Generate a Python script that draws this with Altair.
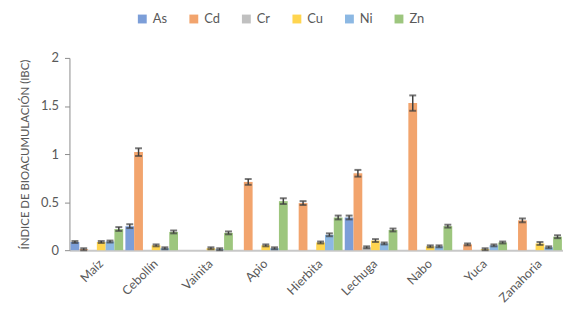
import altair as alt
import pandas as pd

categories = ["Maíz", "Cebollín", "Vainita", "Apio", "Hierbita", "Lechuga", "Nabo", "Yuca", "Zanahoria"]
metals = ["As", "Cd", "Cr", "Cu", "Ni", "Zn"]
colors = ["#7C9ED8", "#F2A46D", "#C0C0C0", "#FFD54F", "#8CB8E3", "#9DC67E"]

as_vals = [0.085, 0.25, 0, 0, 0, 0.34, 0, 0, 0]
cd_vals = [0.01, 1.02, 0, 0.71, 0.49, 0.80, 1.53, 0.06, 0.31]
cr_vals = [0, 0, 0, 0, 0, 0.03, 0, 0, 0]
cu_vals = [0.085, 0.05, 0.02, 0.05, 0.08, 0.10, 0.04, 0.01, 0.07]
ni_vals = [0.09, 0.02, 0.01, 0.02, 0.16, 0.07, 0.04, 0.05, 0.03]
zn_vals = [0.22, 0.19, 0.18, 0.51, 0.34, 0.21, 0.25, 0.08, 0.14]

as_err = [0.01, 0.02, 0, 0, 0, 0.02, 0, 0, 0]
cd_err = [0.01, 0.04, 0, 0.03, 0.02, 0.035, 0.08, 0.01, 0.02]
cr_err = [0, 0, 0, 0, 0, 0.01, 0, 0, 0]
cu_err = [0.01, 0.01, 0.01, 0.01, 0.01, 0.015, 0.01, 0.01, 0.015]
ni_err = [0.01, 0.01, 0.01, 0.01, 0.015, 0.01, 0.01, 0.01, 0.01]
zn_err = [0.02, 0.015, 0.015, 0.03, 0.02, 0.015, 0.015, 0.01, 0.015]

vals = [as_vals, cd_vals, cr_vals, cu_vals, ni_vals, zn_vals]
errs = [as_err, cd_err, cr_err, cu_err, ni_err, zn_err]

rows = []
for m, vs, es in zip(metals, vals, errs):
    for c, v, e in zip(categories, vs, es):
        rows.append({"cat": c, "metal": m, "val": v, "err": e,
                     "lo": v - e, "hi": v + e})
df = pd.DataFrame(rows)

FONT = "Lato"
GREY = "#595959"

x_enc = alt.X("cat:N", sort=categories, title=None,
              scale=alt.Scale(paddingInner=0.04, paddingOuter=0.02),
              axis=alt.Axis(labelAngle=-45, labelFontSize=12.5, labelColor=GREY,
                            labelFont=FONT, ticks=False, domainColor="#C8C8C8",
                            domainWidth=2, labelPadding=7))
xo_enc = alt.XOffset("metal:N", sort=metals, scale=alt.Scale(paddingInner=0, paddingOuter=0))

bars = alt.Chart(df).mark_bar(opacity=1).encode(
    x=x_enc,
    xOffset=xo_enc,
    y=alt.Y("val:Q", title="ÍNDICE DE BIOACUMULACIÓN (IBC)",
            scale=alt.Scale(domain=[0, 2], nice=False),
            axis=alt.Axis(values=[0, 0.5, 1, 1.5, 2], format="~g", grid=False,
                          labelFontSize=13, labelColor=GREY, labelFont=FONT,
                          titleFont=FONT, titleFontSize=11.5, titleColor=GREY,
                          titleFontWeight="normal", domainColor="#8C8C8C",
                          tickColor="#8C8C8C", tickSize=5, labelPadding=6,
                          titlePadding=10)),
    color=alt.Color("metal:N", sort=metals,
                    scale=alt.Scale(domain=metals, range=colors),
                    legend=alt.Legend(title=None, orient="none", direction="horizontal",
                                      legendX=67, legendY=-46, columns=6,
                                      symbolType="square", symbolSize=80,
                                      symbolStrokeWidth=0, labelFontSize=13,
                                      labelColor=GREY, labelFont=FONT,
                                      columnPadding=20, symbolOpacity=1)),
)

err_df = df[df["err"] > 0]

rules = alt.Chart(err_df).mark_rule(color="#404040", strokeWidth=1.5).encode(
    x=alt.X("cat:N", sort=categories),
    xOffset=xo_enc,
    y="lo:Q",
    y2="hi:Q",
)
cap_hi = alt.Chart(err_df).mark_tick(color="#404040", thickness=2, size=7).encode(
    x=alt.X("cat:N", sort=categories),
    xOffset=xo_enc,
    y="hi:Q",
)
cap_lo = alt.Chart(err_df).mark_tick(color="#404040", thickness=2, size=7).encode(
    x=alt.X("cat:N", sort=categories),
    xOffset=xo_enc,
    y="lo:Q",
)

chart = alt.layer(bars, rules, cap_hi, cap_lo).properties(
    width=498, height=194,
    autosize=alt.AutoSizeParams(type="none"),
    padding={"left": 62, "top": 49, "right": 0, "bottom": 59},
).configure_view(stroke=None).configure_tick(bandSize=7)

chart.save("out.html", embed_options={"renderer": "svg", "actions": False})
